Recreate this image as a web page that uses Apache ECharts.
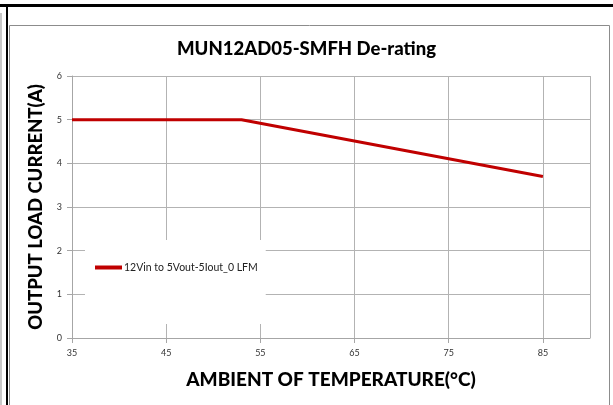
<!DOCTYPE html>
<html>
<head>
<meta charset="utf-8">
<script src="https://cdn.jsdelivr.net/npm/echarts@6/dist/echarts.min.js"></script>
<style>
html,body{margin:0;padding:0;background:#fff;}
#c{width:613px;height:405px;}
</style>
</head>
<body>
<div id="c"></div>
<script>
// Data
var temperatures = [35, 53, 85];
var currents = [5, 5, 3.7];
var seriesName = '12Vin to 5Vout-5Iout_0 LFM';
var xTicks = [35, 45, 55, 65, 75, 85];
var yTicks = [0, 1, 2, 3, 4, 5, 6];
var X0 = 35; // axis origin offset so ticks start at 35

var chart = echarts.init(document.getElementById('c'));
var FONT = 'Lato';
chart.setOption({
  animation: false,
  backgroundColor: '#fff',
  title: {
    text: 'MUN12AD05-SMFH De-rating',
    left: 'center',
    top: 35,
    textStyle: {fontFamily: FONT, fontSize: 18.5, fontWeight: 900, color: '#000'}
  },
  grid: {left: 72, right: 23, top: 76, bottom: 67},
  legend: {
    left: 85, top: 240,
    backgroundColor: '#fff',
    padding: [22, 8, 51, 10],
    icon: 'rect',
    itemWidth: 27, itemHeight: 4, itemGap: 0,
    textStyle: {fontFamily: FONT, fontSize: 10.5, color: '#222', padding: [0, 0, 0, -3]},
    data: [seriesName]
  },
  xAxis: {
    type: 'value',
    min: 0, max: 55, interval: 10,
    name: 'AMBIENT OF TEMPERATURE(°C)',
    nameLocation: 'middle', nameGap: 32,
    nameTextStyle: {fontFamily: FONT, fontSize: 19, fontWeight: 900, color: '#000'},
    axisLine: {show: true, lineStyle: {color: '#a6a6a6', width: 1}},
    axisTick: {show: true, length: 5, lineStyle: {color: '#a6a6a6'}},
    splitLine: {show: true, lineStyle: {color: '#b3b3b3', width: 1}},
    axisLabel: {
      margin: 11, fontFamily: FONT, fontSize: 9, color: '#333',
      showMaxLabel: false,
      formatter: function (v) { return xTicks.indexOf(v + X0) >= 0 ? String(v + X0) : ''; }
    }
  },
  yAxis: {
    type: 'value',
    min: 0, max: 6, interval: 1,
    name: 'OUTPUT LOAD CURRENT(A)',
    nameLocation: 'middle', nameGap: 26,
    nameTextStyle: {fontFamily: FONT, fontSize: 18.5, fontWeight: 900, color: '#000'},
    axisLine: {show: true, lineStyle: {color: '#a6a6a6', width: 1}},
    axisTick: {show: true, length: 5, lineStyle: {color: '#a6a6a6'}},
    splitLine: {show: true, lineStyle: {color: '#b3b3b3', width: 1}},
    axisLabel: {
      margin: 10, fontFamily: FONT, fontSize: 9, color: '#333',
      formatter: function (v) { return yTicks.indexOf(v) >= 0 ? String(v) : ''; }
    }
  },
  series: [{
    name: seriesName,
    type: 'line',
    data: temperatures.map(function (t, i) { return [t - X0, currents[i]]; }),
    showSymbol: false,
    symbol: 'none',
    lineStyle: {color: '#c00000', width: 3},
    itemStyle: {color: '#c00000'},
    z: 3
  }],
  graphic: [
    {type: 'rect', shape: {x: 0, y: 4, width: 613, height: 3}, style: {fill: '#000'}, silent: true},
    {type: 'rect', shape: {x: 6, y: 4, width: 2, height: 401}, style: {fill: '#000'}, silent: true},
    {type: 'rect', shape: {x: 0, y: 13, width: 2, height: 392}, style: {fill: '#c8c8c8'}, silent: true},
    {type: 'rect', shape: {x: 9.5, y: 25.5, width: 600, height: 390}, style: {fill: 'none', stroke: '#8c8c8c', lineWidth: 1}, silent: true, z: -1}
  ]
});
</script>
</body>
</html>
